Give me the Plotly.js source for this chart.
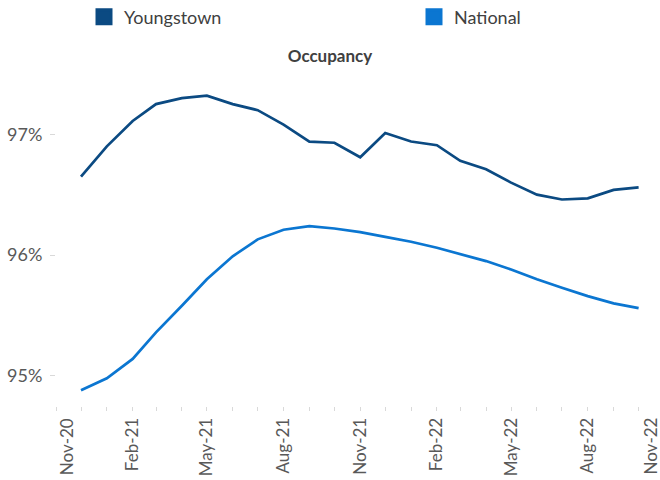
<!DOCTYPE html>
<html>
<head>
<meta charset="utf-8">
<script src="https://cdn.plot.ly/plotly-3.0.1.min.js"></script>
<style>html,body{margin:0;padding:0;background:#fff;}#chart{width:660px;height:480px;}</style>
</head>
<body>
<div id="chart"></div>
<script>
// Months (Dec-20 .. Oct-22)
const months = ['2020-12-01','2021-01-01','2021-02-01','2021-03-01','2021-04-01','2021-05-01',
  '2021-06-01','2021-07-01','2021-08-01','2021-09-01','2021-10-01','2021-11-01',
  '2021-12-01','2022-01-01','2022-02-01','2022-03-01','2022-04-01','2022-05-01',
  '2022-06-01','2022-07-01','2022-08-01','2022-09-01','2022-10-01'];
// Occupancy, %
const youngstown = [96.65, 96.90, 97.11, 97.25, 97.30, 97.32, 97.25, 97.20, 97.08, 96.94, 96.93, 96.81,
  97.01, 96.94, 96.91, 96.78, 96.71, 96.60, 96.50, 96.46, 96.47, 96.54, 96.56];
const national = [94.88, 94.98, 95.14, 95.36, 95.58, 95.80, 95.99, 96.13, 96.21, 96.24, 96.22, 96.19,
  96.15, 96.11, 96.06, 96.01, 95.95, 95.88, 95.80, 95.73, 95.66, 95.60, 95.56];
const seriesNames = ['Youngstown', 'National'];
// Axis ticks
const xTickVals = ['2020-11-01','2021-02-01','2021-05-01','2021-08-01','2021-11-01','2022-02-01','2022-05-01','2022-08-01'];
const xTickText = ['','Feb-21','May-21','Aug-21','Nov-21','Feb-22','May-22','Aug-22'];
const edgeLabels = ['Nov-20','Nov-22'];
const yTickVals = [95, 96, 97];
const yTickText = ['95%','96%','97%'];

const colors = ['#0B4A82', '#0B76D1'];
const font = 'Lato, "Liberation Sans", sans-serif';

const traces = [
  {x: months, y: youngstown, type: 'scatter', mode: 'lines', name: seriesNames[0],
   line: {color: colors[0], width: 2.7}, showlegend: false},
  {x: months, y: national, type: 'scatter', mode: 'lines', name: seriesNames[1],
   line: {color: colors[1], width: 2.7}, showlegend: false},
  {x: [null], y: [null], type: 'scatter', mode: 'markers', name: seriesNames[0], legend: 'legend',
   marker: {symbol: 'square', size: 14, color: colors[0], line: {color: colors[0], width: 3}}},
  {x: [null], y: [null], type: 'scatter', mode: 'markers', name: seriesNames[1], legend: 'legend2',
   marker: {symbol: 'square', size: 14, color: colors[1], line: {color: colors[1], width: 3}}}
];

const legendBase = {orientation: 'h', xref: 'container', yref: 'container', xanchor: 'left',
  y: 1 - 17/480, yanchor: 'middle', font: {family: font, size: 18, color: '#404040'},
  itemsizing: 'trace', bgcolor: 'rgba(0,0,0,0)'};

const layout = {
  width: 660, height: 480,
  margin: {l: 56, r: 0, t: 86, b: 74},
  paper_bgcolor: '#ffffff', plot_bgcolor: '#ffffff',
  font: {family: font, color: '#595959', size: 17},
  title: {text: 'Occupancy', font: {family: font, size: 17, color: '#404040', weight: 'bold'},
    x: 0.5, xref: 'container', xanchor: 'center', y: 1 - 56/480, yref: 'container', yanchor: 'middle'},
  showlegend: true,
  legend: Object.assign({}, legendBase, {x: 84/660}),
  legend2: Object.assign({}, legendBase, {x: 414/660}),
  xaxis: {type: 'date', range: ['2020-11-01', '2022-10-26 16:00'], showgrid: false, zeroline: false,
    showline: false, tickmode: 'array', tickvals: xTickVals, ticktext: xTickText, tickangle: -90,
    ticks: 'outside', ticklen: 4, tickcolor: '#d9d9d9', tickfont: {family: font, size: 17, color: '#595959'},
    minor: {dtick: 'M1', tick0: '2020-11-01', ticks: 'outside', ticklen: 4, tickcolor: '#d9d9d9', showgrid: false}},
  yaxis: {range: [94.75, 97.4], showgrid: false, zeroline: false, showline: false,
    tickmode: 'array', tickvals: yTickVals, ticktext: yTickText, ticks: 'outside', ticklen: 5,
    tickcolor: '#d9d9d9', ticklabelstandoff: 4, tickfont: {family: font, size: 18, color: '#595959'}},
  annotations: [
    {text: edgeLabels[0], xref: 'paper', yref: 'paper', x: 0, y: 0, xshift: 10.7, yshift: -10,
     xanchor: 'center', yanchor: 'top', textangle: -90, showarrow: false,
     font: {family: font, size: 17, color: '#595959'}},
    {text: edgeLabels[1], xref: 'paper', yref: 'paper', x: 1, y: 0, xshift: -10, yshift: -10,
     xanchor: 'center', yanchor: 'top', textangle: -90, showarrow: false,
     font: {family: font, size: 17, color: '#595959'}}
  ]
};

Plotly.newPlot('chart', traces, layout, {staticPlot: true, displayModeBar: false});
</script>
</body>
</html>
